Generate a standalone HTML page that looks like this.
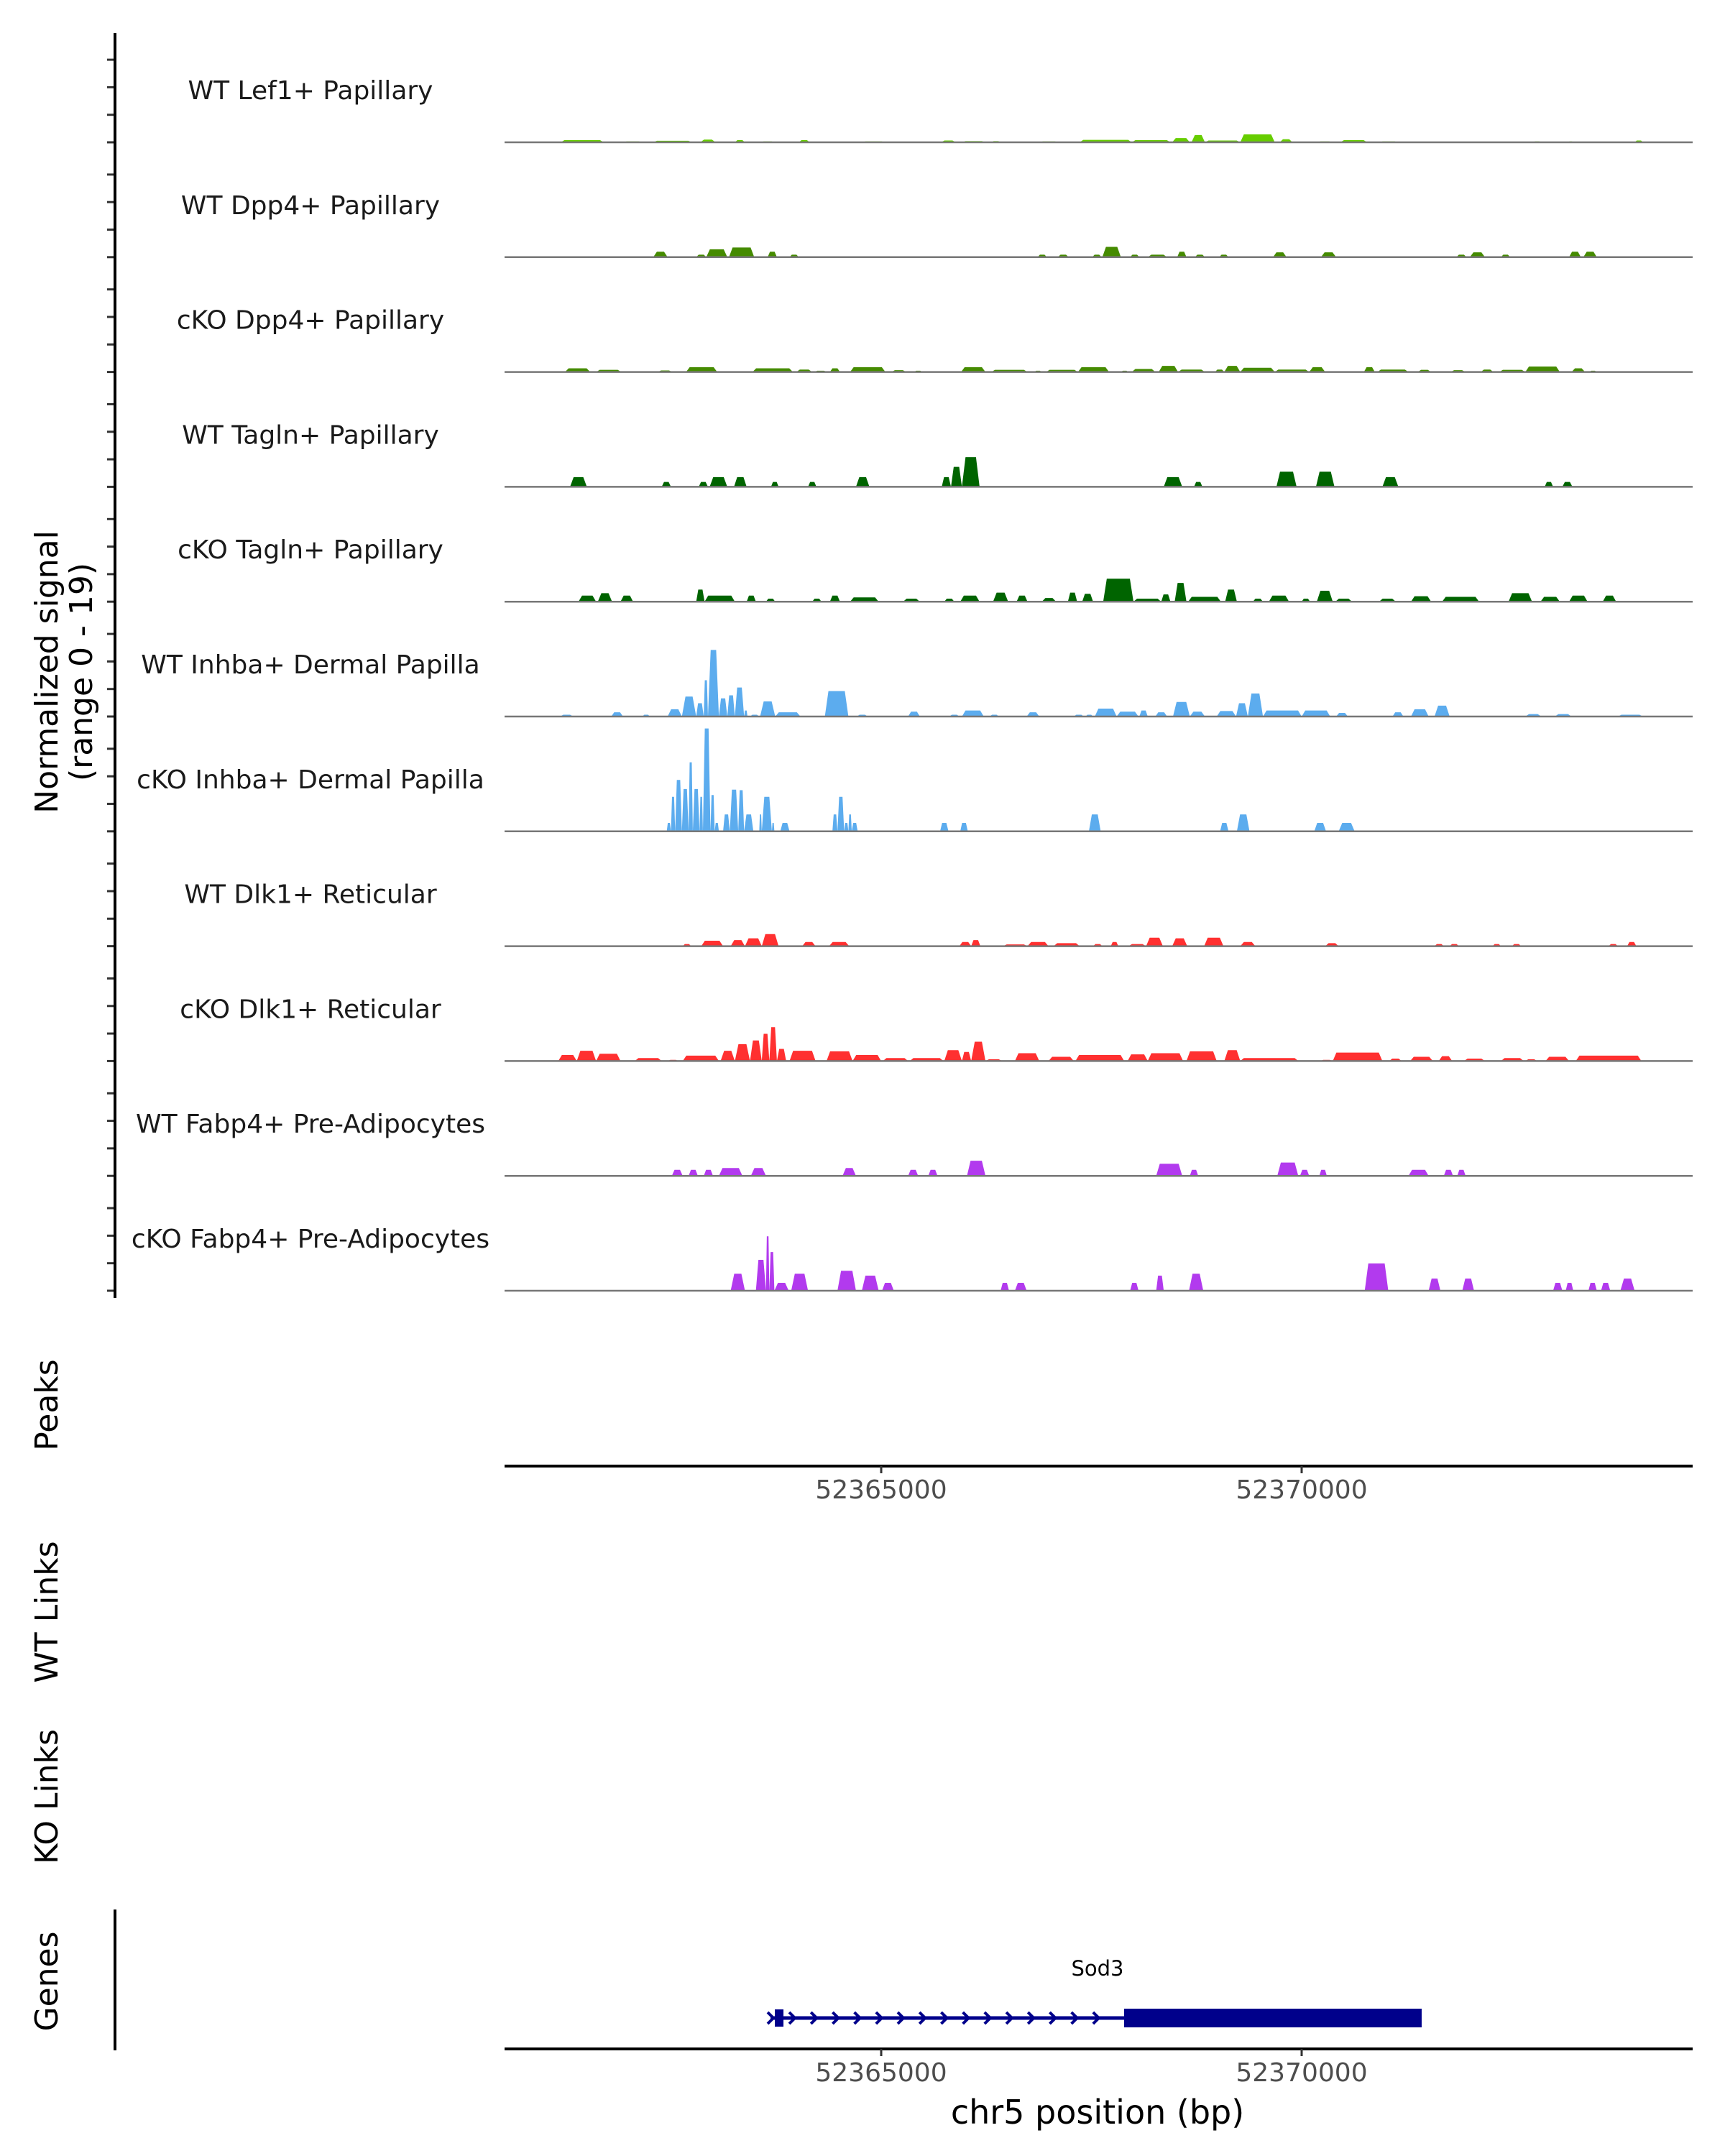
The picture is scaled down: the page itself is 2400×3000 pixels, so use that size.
<!DOCTYPE html>
<html><head><meta charset="utf-8"><style>
html,body{margin:0;padding:0;background:#fff;}
svg{display:block;font-family:"DejaVu Sans","Liberation Sans",sans-serif;}
</style></head><body>
<svg id="chart" width="2400" height="3000" viewBox="0 0 2400 3000" xmlns="http://www.w3.org/2000/svg">
<g id="tracks"></g>
<g id="frame"></g>
</svg>
<script>
// ---- data (positions: kb offset from 52,360,000 bp; heights: normalized signal) ----
const trackNames = ["WT Lef1+ Papillary","WT Dpp4+ Papillary","cKO Dpp4+ Papillary","WT Tagln+ Papillary","cKO Tagln+ Papillary","WT Inhba+ Dermal Papilla","cKO Inhba+ Dermal Papilla","WT Dlk1+ Reticular","cKO Dlk1+ Reticular","WT Fabp4+ Pre-Adipocytes","cKO Fabp4+ Pre-Adipocytes"];
const trackColors = ["#66CD00","#458B00","#458B00","#006400","#006400","#5CACEE","#5CACEE","#FF3030","#FF3030","#B23AEE","#B23AEE"];
const lef1WT = [[1.19,1.70,.35],[1.93,2.16,.15],[2.29,2.75,.25],[2.85,3.03,.45],[3.26,3.38,.35],[3.56,3.74,.15],[4.02,4.15,.35],[4.77,5.05,.15],[5.71,5.89,.3],[5.96,6.24,.2],[6.31,6.42,.2],[6.88,7.11,.15],[7.36,7.98,.4],[7.98,8.44,.35],[8.46,8.67,.7],[8.69,8.85,1.2],[8.85,9.27,.3],[9.27,9.68,1.3],[9.74,9.89,.5],[10.18,10.37,.15],[10.46,10.78,.35],[10.92,11.15,.15],[12.75,12.85,.15],[13.17,13.23,.15],[13.96,14.06,.3]];
const dpp4WT = [[2.29,2.46,.9],[2.80,2.92,.4],[2.92,3.17,1.3],[3.19,3.49,1.6],[3.65,3.76,.9],[3.91,4.02,.4],[6.86,6.97,.4],[7.10,7.23,.4],[7.51,7.62,.4],[7.63,7.85,1.7],[7.96,8.07,.4],[8.17,8.40,.4],[8.52,8.63,.9],[8.73,8.85,.4],[9.02,9.13,.4],[9.66,9.82,.8],[10.23,10.41,.8],[11.84,11.96,.4],[12.00,12.18,.8],[12.37,12.48,.4],[13.18,13.32,.9],[13.35,13.51,.9]];
const dpp4KO = [[1.24,1.54,.6],[1.61,1.91,.35],[2.34,2.52,.25],[2.68,3.05,.8],[3.47,3.95,.6],[3.99,4.18,.4],[4.20,4.36,.2],[4.39,4.51,.6],[4.63,5.05,.8],[5.12,5.30,.3],[5.39,5.49,.2],[5.95,6.24,.8],[6.31,6.74,.35],[6.82,6.91,.2],[6.96,7.34,.35],[7.34,7.71,.8],[7.85,7.94,.2],[7.98,8.26,.5],[8.30,8.53,1.0],[8.53,8.85,.4],[8.97,9.08,.4],[9.08,9.27,1.0],[9.27,9.68,.7],[9.68,10.09,.4],[10.09,10.28,.8],[10.74,10.87,.8],[10.90,11.27,.4],[11.38,11.54,.35],[11.77,11.95,.3],[12.13,12.28,.4],[12.35,12.66,.35],[12.66,13.07,.9],[13.21,13.37,.6],[13.42,13.51,.2]];
const taglnWT = [[1.30,1.50,1.6],[2.39,2.50,.8],[2.83,2.94,.8],[2.96,3.17,1.6],[3.25,3.40,1.6],[3.69,3.78,.8],[4.13,4.23,.8],[4.70,4.86,1.6],[5.72,5.83,1.6],[5.83,5.96,3.3],[5.96,6.17,4.9],[8.36,8.58,1.6],[8.72,8.82,.8],[9.70,9.94,2.5],[10.17,10.39,2.5],[10.96,11.15,1.6],[12.89,12.99,.8],[13.10,13.22,.8]];
const taglnKO = [[1.40,1.61,1.0],[1.63,1.80,1.4],[1.90,2.05,1.0],[2.80,2.90,2.0],[2.90,3.26,1.0],[3.40,3.51,1.0],[3.63,3.74,.5],[4.18,4.29,.5],[4.39,4.51,1.0],[4.63,4.97,.7],[5.26,5.46,.5],[5.75,5.87,.5],[5.94,6.17,1.0],[6.33,6.51,1.5],[6.61,6.74,1.0],[6.91,7.08,.6],[7.22,7.33,1.5],[7.39,7.52,1.3],[7.64,8.00,3.8],[8.00,8.33,.5],[8.33,8.44,1.2],[8.49,8.63,3.1],[8.65,9.04,.8],[9.09,9.23,2.0],[9.42,9.54,.5],[9.61,9.85,1.0],[10.00,10.10,.5],[10.18,10.37,1.8],[10.40,10.60,.5],[10.92,11.12,.5],[11.30,11.54,.9],[11.67,12.11,.8],[12.46,12.74,1.4],[12.84,13.07,.8],[13.18,13.40,1.0],[13.58,13.74,1.0]];
const inhbaWT = [[1.18,1.34,.3],[1.79,1.93,.7],[2.16,2.25,.3],[2.46,2.63,1.2],[2.63,2.80,3.3],[2.80,2.89,2.2],[2.89,2.94,6.0],[2.94,3.07,11.0],[3.07,3.17,3.0],[3.17,3.26,3.5],[3.26,3.37,4.8],[3.37,3.41,1.0],[3.44,3.55,.3],[3.56,3.74,2.5],[3.74,4.04,.7],[4.33,4.61,4.2],[4.71,4.84,.3],[5.32,5.46,.8],[5.81,5.93,.3],[5.96,6.22,1.0],[6.29,6.40,.3],[6.73,6.88,.7],[7.29,7.41,.3],[7.43,7.52,.3],[7.54,7.80,1.3],[7.80,8.06,.8],[8.07,8.17,1.0],[8.26,8.40,.7],[8.47,8.67,2.4],[8.67,8.85,.8],[8.99,9.22,.9],[9.22,9.36,2.2],[9.36,9.54,3.8],[9.54,10.00,1.0],[10.00,10.34,1.0],[10.41,10.55,.6],[11.08,11.21,.7],[11.30,11.51,1.2],[11.58,11.76,1.8],[12.66,12.85,.4],[13.01,13.21,.4],[13.76,14.06,.3]];
const inhbaKO = [[2.45,2.50,1.4],[2.50,2.55,5.7],[2.55,2.63,8.5],[2.63,2.71,7.0],[2.71,2.76,11.4],[2.76,2.84,7.0],[2.84,2.88,5.7],[2.88,2.97,17.0],[2.97,3.02,6.0],[3.02,3.07,1.4],[3.12,3.20,2.8],[3.20,3.30,6.9],[3.30,3.37,6.8],[3.37,3.48,2.8],[3.55,3.58,2.8],[3.58,3.70,5.7],[3.70,3.73,1.4],[3.80,3.91,1.4],[4.42,4.48,2.8],[4.48,4.56,5.7],[4.56,4.61,1.4],[4.61,4.65,2.8],[4.65,4.72,1.4],[5.70,5.80,1.4],[5.94,6.03,1.4],[7.47,7.61,2.8],[9.03,9.13,1.4],[9.23,9.38,2.8],[10.15,10.29,1.4],[10.44,10.63,1.4]];
const dlk1WT = [[2.64,2.74,.35],[2.86,3.12,.9],[3.21,3.38,1.0],[3.38,3.58,1.3],[3.58,3.78,2.0],[4.06,4.22,.7],[4.38,4.62,.7],[5.93,6.07,.7],[6.07,6.18,1.0],[6.45,6.74,.3],[6.74,6.99,.7],[7.05,7.36,.5],[7.52,7.63,.35],[7.73,7.82,.7],[7.94,8.15,.35],[8.15,8.35,1.4],[8.46,8.64,1.3],[8.84,9.07,1.4],[9.27,9.45,.7],[10.28,10.44,.5],[11.58,11.69,.35],[11.76,11.87,.35],[12.27,12.37,.35],[12.50,12.61,.35],[13.65,13.76,.35],[13.87,13.98,.7]];
const dlk1KO = [[1.16,1.38,1.0],[1.38,1.61,1.7],[1.61,1.90,1.2],[2.07,2.39,.5],[2.46,2.59,.2],[2.64,3.07,.9],[3.09,3.26,1.7],[3.26,3.44,2.8],[3.44,3.58,3.4],[3.58,3.67,4.5],[3.67,3.76,5.6],[3.76,3.87,2.0],[3.91,4.22,1.7],[4.35,4.66,1.6],[4.66,5.00,1.0],[5.02,5.32,.5],[5.34,5.74,.5],[5.75,5.96,1.8],[5.96,6.07,1.5],[6.07,6.24,3.2],[6.24,6.44,.3],[6.59,6.88,1.3],[6.99,7.29,.7],[7.31,7.89,1.0],[7.93,8.17,1.1],[8.17,8.59,1.3],[8.63,8.99,1.6],[9.08,9.27,1.8],[9.27,9.96,.5],[10.22,10.37,.2],[10.37,10.96,1.4],[11.04,11.19,.4],[11.29,11.56,.7],[11.63,11.79,.8],[11.93,12.18,.4],[12.37,12.64,.5],[12.66,12.80,.3],[12.90,13.18,.7],[13.26,14.04,.9]];
const fabp4WT = [[2.51,2.64,1.0],[2.71,2.82,1.0],[2.89,3.00,1.0],[3.07,3.35,1.3],[3.45,3.63,1.3],[4.54,4.70,1.3],[5.32,5.44,1.0],[5.56,5.67,1.0],[6.02,6.24,2.5],[8.27,8.58,2.0],[8.67,8.77,1.0],[9.71,9.96,2.2],[9.98,10.09,1.0],[10.21,10.30,1.0],[11.27,11.51,1.0],[11.69,11.80,1.0],[11.85,11.95,1.0]];
const fabp4KO = [[3.21,3.38,2.8],[3.51,3.63,5.1],[3.63,3.67,9.0],[3.67,3.73,6.4],[3.73,3.90,1.3],[3.93,4.13,2.8],[4.48,4.70,3.3],[4.77,4.97,2.5],[5.01,5.15,1.3],[6.42,6.52,1.3],[6.59,6.73,1.3],[7.96,8.06,1.3],[8.27,8.36,2.5],[8.66,8.83,2.8],[10.75,11.03,4.5],[11.51,11.65,2.0],[11.91,12.05,2.0],[12.99,13.10,1.3],[13.14,13.23,1.3],[13.41,13.51,1.3],[13.56,13.67,1.3],[13.79,13.96,2.0]];
const trackData = [lef1WT,dpp4WT,dpp4KO,taglnWT,taglnKO,inhbaWT,inhbaKO,dlk1WT,dlk1KO,fabp4WT,fabp4KO];
const xTickValues = [52365000, 52370000];
const xTickLabels = ["52365000", "52370000"];
const geneName = "Sod3";
const geneStart = 52363684, cdsStart = 52367889, geneEnd = 52371427;
const yMax = 19;

// ---- scales ----
const NS = "http://www.w3.org/2000/svg";
const X0 = 702, X1 = 2355;
function xScale(bp){ return 1226 + (bp - 52365000) * 0.117; }
function kbToBp(kb){ return 52360000 + kb * 1000; }
const trackH = 159.8, firstBase = 198;
function baseY(i){ return firstBase + trackH * i; }
function hScale(v){ return v / yMax * 160; }

function mk(tag, attrs, parent, text){
  const el = document.createElementNS(NS, tag);
  for (const k in attrs) el.setAttribute(k, attrs[k]);
  if (text !== undefined) el.textContent = text;
  parent.appendChild(el);
  return el;
}
const tracks = document.getElementById('tracks');
const frame = document.getElementById('frame');

trackData.forEach((segs, i) => {
  const g = mk('g', {}, tracks);
  
  
  const by = baseY(i);
  segs.forEach(s => {
    const xa = xScale(kbToBp(s[0])), xb = xScale(kbToBp(s[1]));
    const top = by - hScale(s[2]);
    const r = Math.min((xb - xa) * 0.25, 5);
    const p = mk('polygon', {points: `${xa},${by} ${xa+r},${top} ${xb-r},${top} ${xb},${by}`, fill: trackColors[i]}, g);
    
    
  });
  const bl = mk('line', {x1: X0, x2: X1, y1: by, y2: by, stroke: '#777', 'stroke-width': 2.5}, g);
  
  
  const lab = mk('text', {x: 432, y: by - 60, 'text-anchor': 'middle', 'font-size': 36, fill: '#1a1a1a'}, g, trackNames[i]);
  
  
  for (let k = 0; k < 4; k++) {
    const ty = by - k * 38.3;
    const t = mk('line', {x1: 149, x2: 160, y1: ty, y2: ty, stroke: '#333', 'stroke-width': 3}, g);
    
    
  }
});

// left axis
const ya = mk('line', {x1: 160, x2: 160, y1: 46, y2: 1806, stroke: '#000', 'stroke-width': 4}, frame);


const yt = mk('text', {transform: 'translate(80,935) rotate(-90)', 'text-anchor': 'middle', 'font-size': 44, fill: '#000'}, frame, 'Normalized signal');


const yt2 = mk('text', {transform: 'translate(128,935) rotate(-90)', 'text-anchor': 'middle', 'font-size': 44, fill: '#000'}, frame, '(range 0 - 19)');



// side panel labels
[["Peaks",1955,"peaks-label"],["WT Links",2243,"wt-links-label"],["KO Links",2500,"ko-links-label"],["Genes",2757,"genes-label"]].forEach(l => {
  const t = mk('text', {transform: `translate(80,${l[1]}) rotate(-90)`, 'text-anchor': 'middle', 'font-size': 44, fill: '#000'}, frame, l[0]);
  
  
});

// x axes
function xAxis(y, name){
  const g = mk('g', {}, frame);
  
  
  mk('line', {x1: X0, x2: X1, y1: y, y2: y, stroke: '#000', 'stroke-width': 4}, g);
  xTickValues.forEach((v, j) => {
    const x = xScale(v);
    mk('line', {x1: x, x2: x, y1: y, y2: y + 10, stroke: '#333', 'stroke-width': 3}, g);
    const t = mk('text', {x: x, y: y + 45, 'text-anchor': 'middle', 'font-size': 36, fill: '#4d4d4d'}, g, xTickLabels[j]);
    
    
  });
}
xAxis(2040, 'peaks-x-axis');
xAxis(2851, 'genes-x-axis');
const xt = mk('text', {x: 1527, y: 2955, 'text-anchor': 'middle', 'font-size': 46, fill: '#000'}, frame, 'chr5 position (bp)');



// genes panel
const gl = mk('line', {x1: 160, x2: 160, y1: 2657, y2: 2853, stroke: '#000', 'stroke-width': 4}, frame);


const gene = mk('g', {}, frame);


const gy = 2808;
const gs = xScale(geneStart), gc = xScale(cdsStart), ge = xScale(geneEnd);
mk('line', {x1: gs, x2: gc, y1: gy, y2: gy, stroke: '#00008B', 'stroke-width': 5}, gene);
mk('rect', {x: gs + 6, y: gy - 12, width: 12, height: 24, fill: '#00008B'}, gene);
mk('rect', {x: gc, y: gy - 13, width: ge - gc, height: 26, fill: '#00008B'}, gene);
for (let x = gs + 30; x < gc - 10; x += 30.2) {
  mk('polyline', {points: `${x-4},${gy-8} ${x+4},${gy} ${x-4},${gy+8}`, fill: 'none', stroke: '#00008B', 'stroke-width': 4}, gene);
}
mk('polyline', {points: `${gs-4},${gy-8} ${gs+4},${gy} ${gs-4},${gy+8}`, fill: 'none', stroke: '#00008B', 'stroke-width': 4}, gene);
const gn = mk('text', {x: 1527, y: 2749, 'text-anchor': 'middle', 'font-size': 29, fill: '#000'}, gene, geneName);


</script>
</body></html>
